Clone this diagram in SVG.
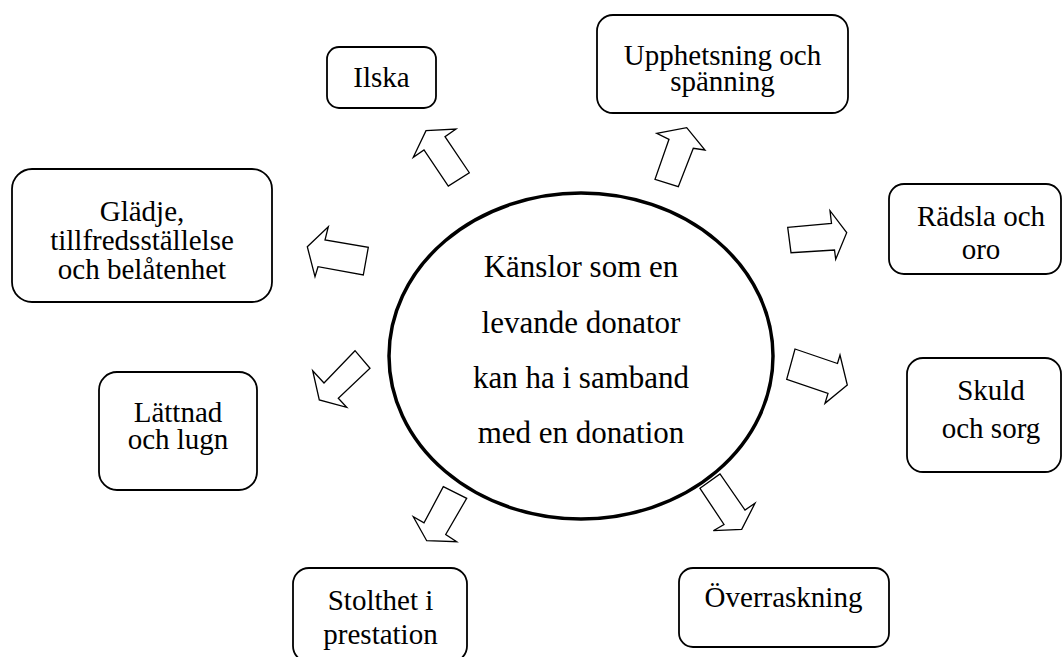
<svg xmlns="http://www.w3.org/2000/svg" width="1062" height="657" viewBox="0 0 1062 657">
<style>
.box{fill:#fff;stroke:#000;stroke-width:1.8}
.ell{fill:#fff;stroke:#000;stroke-width:3.5}
.arr{fill:#fff;stroke:#000;stroke-width:1.3;stroke-linejoin:miter}
.t{font-family:'Liberation Serif',serif;font-size:29px;fill:#000;text-anchor:middle}
.c{font-family:'Liberation Serif',serif;font-size:31px;fill:#000;text-anchor:middle}
</style>
<rect width="1062" height="657" fill="#fff"/>
<g id="connectors">
<polygon class="arr" points="413.3,157.3 426,130.7 456,129 445,136.7 469.3,172.7 448.3,186 424,150"/>
<polygon class="arr" points="656.7,133.3 686.7,127.7 705,150 693.3,148.3 678.3,186.7 655,179.3 669,139.3"/>
<polygon class="arr" points="307.3,246.7 328.3,226.7 325,240 368.3,247.3 363.3,275 318,266.7 315,276.7"/>
<polygon class="arr" points="787.7,227.3 831.5,223.3 830,210.7 846.7,232.7 835.7,259.3 834.5,250 791,252.7"/>
<polygon class="arr" points="795,349 837.5,363.5 840,355 847.3,385 825,403.3 828,393.5 786.7,379.3"/>
<polygon class="arr" points="355,350.7 370,368.3 338.3,398.3 346.7,407.3 319.3,400 312.7,370.7 324,383"/>
<polygon class="arr" points="443.3,486.7 466.7,498.3 445.7,534.5 456.7,541.7 426.7,540.7 413.3,516.7 424,522.9"/>
<polygon class="arr" points="700,488.3 720,474 745,510 755,503.3 741.7,529.3 713.3,530.7 724,524.5"/>
</g>
<g id="center">
<ellipse class="ell" cx="581" cy="356" rx="192" ry="163"/>
<text class="c" x="581" y="277">Känslor som en</text>
<text class="c" x="581" y="333">levande donator</text>
<text class="c" x="581" y="388">kan ha i samband</text>
<text class="c" x="581" y="443">med en donation</text>
</g>
<g id="ilska">
<rect class="box" x="327" y="47" width="109" height="61" rx="12"/>
<text class="t" x="381.5" y="87">Ilska</text>
</g>
<g id="upphetsning">
<rect class="box" x="597" y="15" width="251" height="98" rx="16"/>
<text class="t" x="722.5" y="65">Upphetsning och</text>
<text class="t" x="722.5" y="91">spänning</text>
</g>
<g id="gladje">
<rect class="box" x="12" y="169" width="260" height="133" rx="20"/>
<text class="t" x="142" y="221">Glädje,</text>
<text class="t" x="142" y="249.5">tillfredsställelse</text>
<text class="t" x="142" y="278.5">och belåtenhet</text>
</g>
<g id="radsla">
<rect class="box" x="889" y="184" width="172" height="90" rx="15"/>
<text class="t" x="981" y="225.5">Rädsla och</text>
<text class="t" x="981" y="259">oro</text>
</g>
<g id="skuld">
<rect class="box" x="907" y="358" width="154" height="114" rx="16"/>
<text class="t" x="991" y="400">Skuld</text>
<text class="t" x="991" y="438">och sorg</text>
</g>
<g id="lattnad">
<rect class="box" x="99" y="372" width="158" height="118" rx="18"/>
<text class="t" x="178" y="421.5">Lättnad</text>
<text class="t" x="178" y="448.5">och lugn</text>
</g>
<g id="stolthet">
<rect class="box" x="293" y="568" width="174" height="94" rx="16"/>
<text class="t" x="380.5" y="610">Stolthet i</text>
<text class="t" x="380.5" y="643.5">prestation</text>
</g>
<g id="overraskning">
<rect class="box" x="679" y="568" width="210" height="79" rx="14"/>
<text class="t" x="783.5" y="606.5">Överraskning</text>
</g>
</svg>
